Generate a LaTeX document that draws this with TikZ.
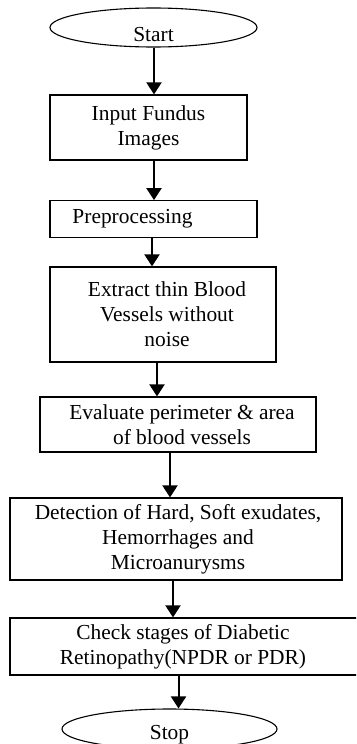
\documentclass[tikz,border=0pt]{standalone}
\usepackage{fontspec}
\setmainfont{Liberation Serif}
\usetikzlibrary{shapes.geometric,arrows.meta}
\begin{document}
\begin{tikzpicture}[x=1pt,y=-1pt,
  txt/.style={font=\fontsize{21.4}{25}\selectfont},
  box/.style={draw,line width=1.2pt,rectangle,inner sep=0pt,txt,align=center},
  oval/.style={draw,line width=1.1pt,ellipse,inner sep=0pt},
  arr/.style={line width=2pt,-{Triangle[length=12pt,width=15pt]}}]
\clip (0,0) rectangle (356,744);
\node[oval,minimum width=207pt,minimum height=39pt,
  label={[txt,yshift=-7.5pt]center:Start}] (start) at (153.5,27.5) {};
\node[box,minimum width=197pt,minimum height=65pt] (b1) at (148.5,127.5) {Input Fundus\\Images};
\node[box,minimum width=207pt,minimum height=37pt,align=left] (b2) at (153.5,219.2) {Preprocessing\hspace*{42pt}};
\node[box,minimum width=226pt,minimum height=95pt] (b3) at (163,314.5) {\hspace*{8pt}Extract thin Blood\\\hspace*{8pt}Vessels without\\\hspace*{8pt}noise};
\node[box,minimum width=276pt,minimum height=55pt] (b4) at (178,424.5) {\hspace*{8pt}Evaluate perimeter \& area\\\hspace*{8pt}of blood vessels};
\node[box,minimum width=332pt,minimum height=82pt] (b5) at (176,539) {\hspace*{4pt}Detection of Hard, Soft exudates,\\\hspace*{4pt}Hemorrhages and\\\hspace*{4pt}Microanurysms};
\node[box,minimum width=352pt,minimum height=57pt] (b6) at (186,646.5) {Check stages of Diabetic\hspace*{6pt}\\Retinopathy(NPDR or PDR)\hspace*{6pt}};
\node[oval,minimum width=215pt,minimum height=40pt,
  label={[txt,yshift=-6pt]center:Stop}] (stop) at (169.5,729) {};
\draw[arr] ([xshift=0.5pt]start.south) -- ([xshift=5.5pt]b1.north);
\draw[arr] ([xshift=5.5pt]b1.south) -- ([xshift=0.5pt]b2.north);
\draw[arr] ([xshift=-1.5pt]b2.south) -- ([xshift=-11pt]b3.north);
\draw[arr] ([xshift=-6pt]b3.south) -- ([xshift=-21pt]b4.north);
\draw[arr] ([xshift=-8pt]b4.south) -- ([xshift=-6pt]b5.north);
\draw[arr] ([xshift=-3pt]b5.south) -- ([xshift=-13pt]b6.north);
\draw[arr] ([xshift=-7.5pt]b6.south) -- ([xshift=9pt]stop.north);
\end{tikzpicture}
\end{document}
